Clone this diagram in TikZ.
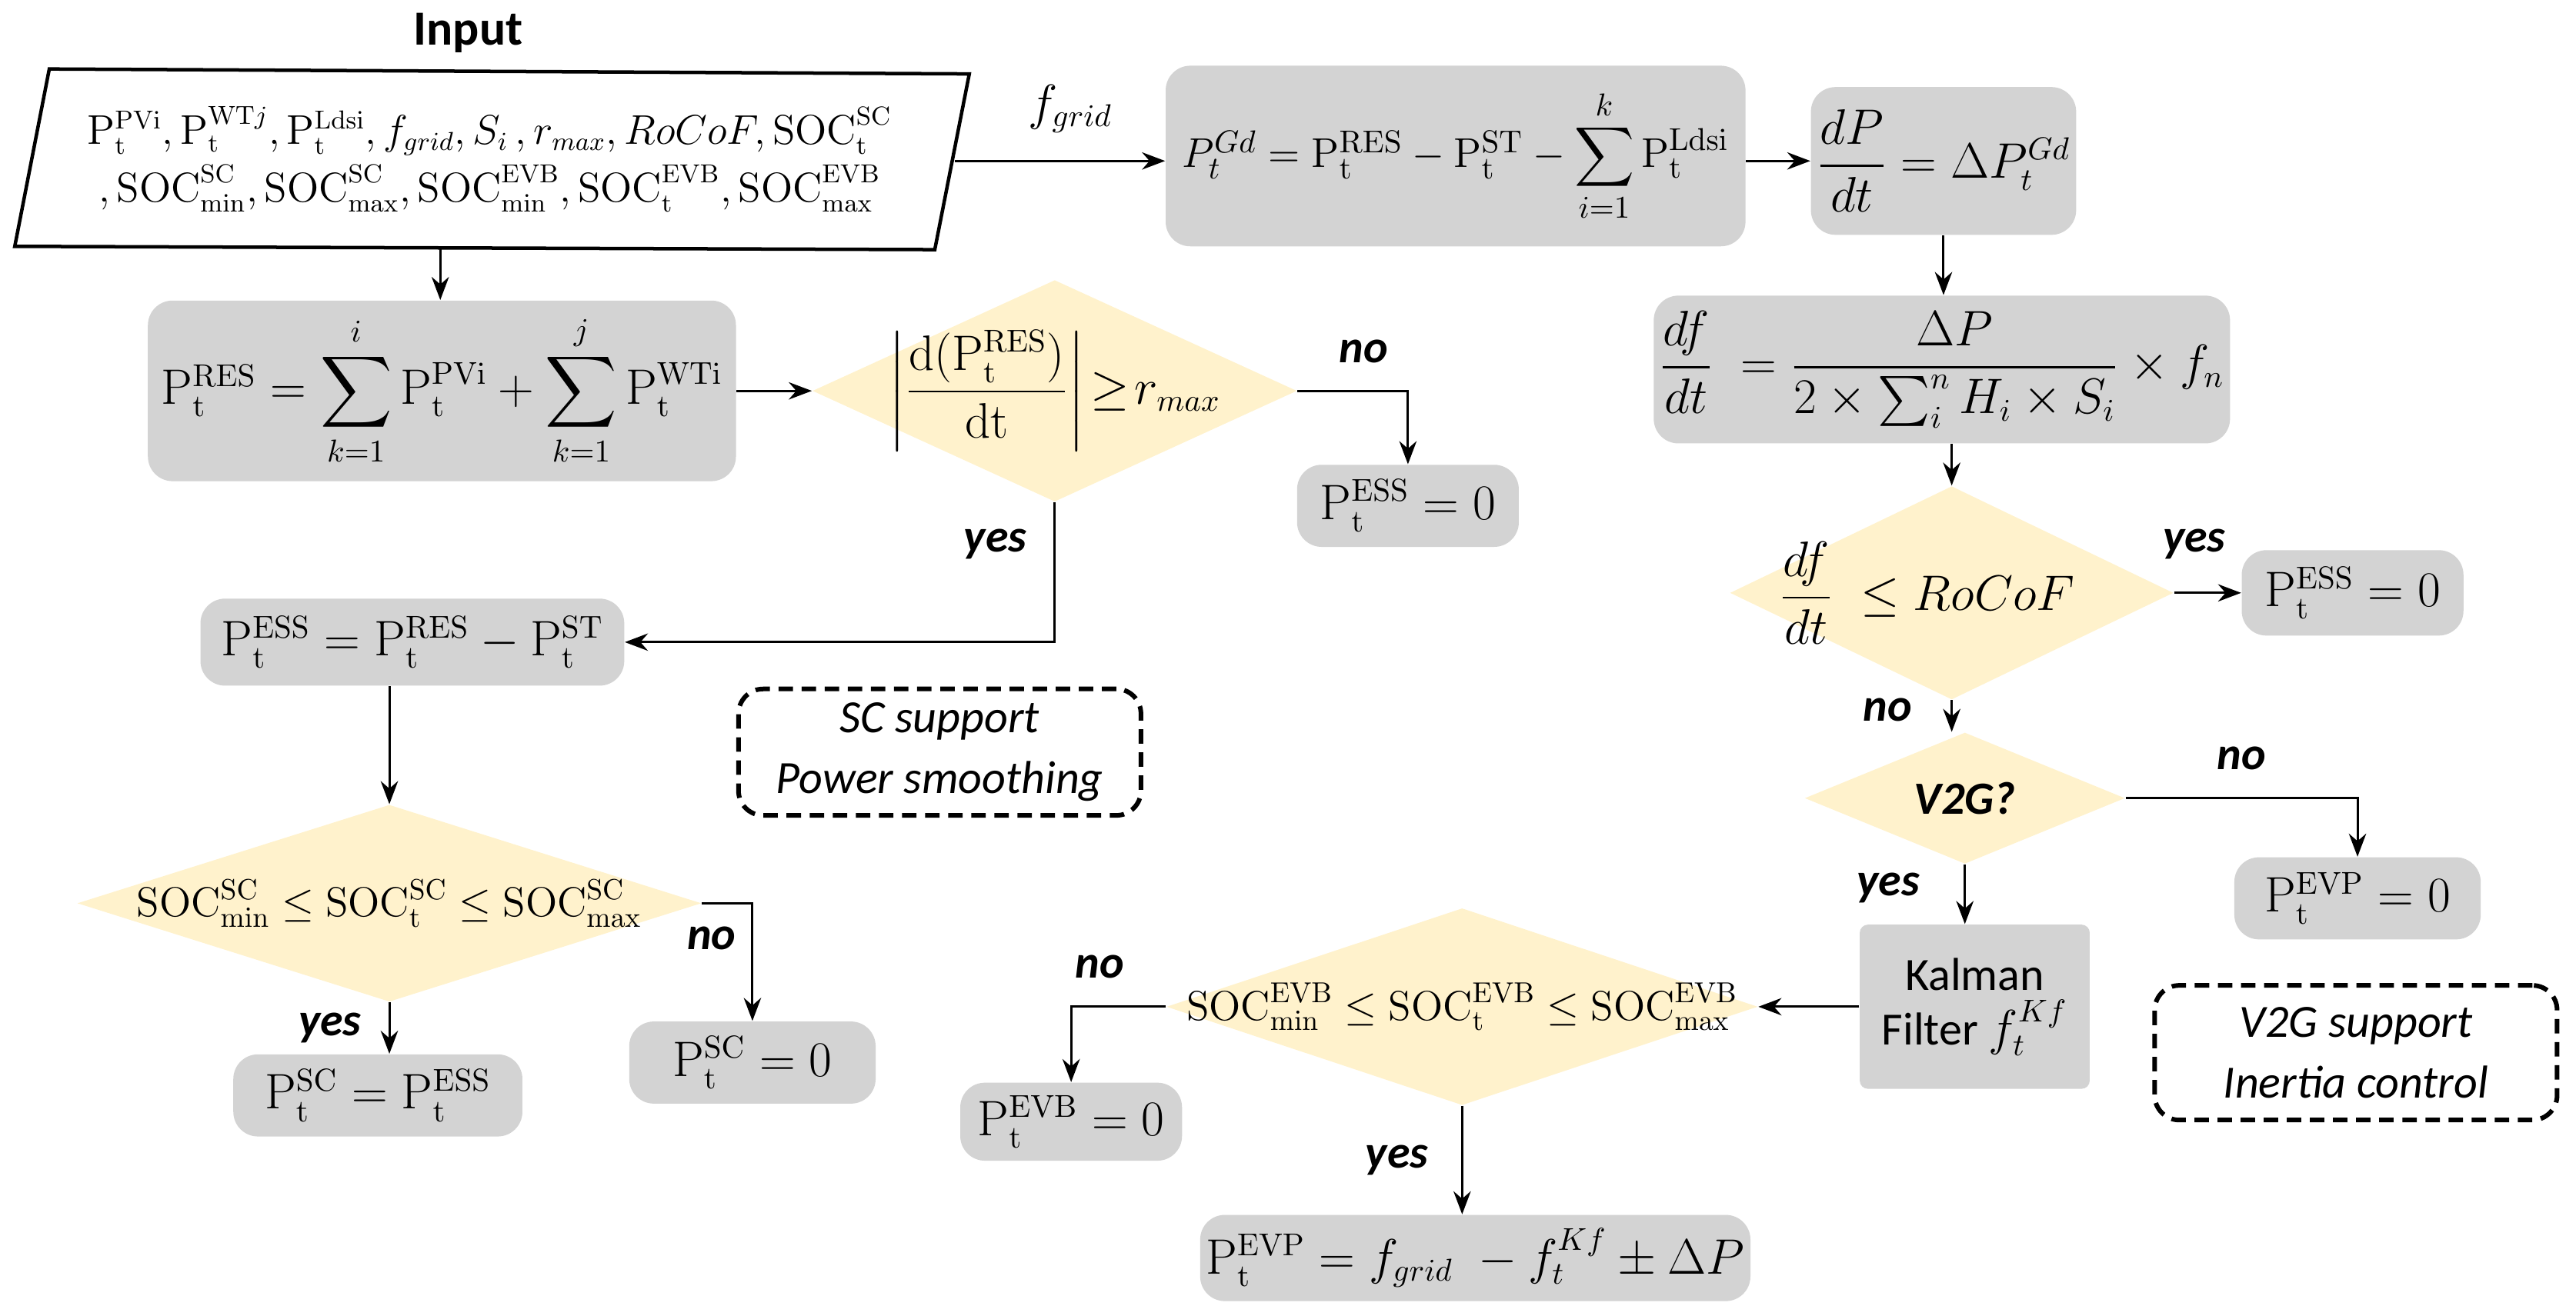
\documentclass[tikz,border=0pt]{standalone}
\usepackage{amsmath}
\usepackage[no-math]{fontspec}
\setmainfont{Carlito}
\usetikzlibrary{shapes.geometric,arrows.meta}
\definecolor{boxgray}{HTML}{D3D3D3}
\definecolor{diayel}{HTML}{FFF2CC}
\newcommand\myP[1]{\mathrm{P}_\mathrm{t}^\mathrm{#1}}
\newcommand\mySOC[2]{\mathrm{SOC}_\mathrm{#1}^\mathrm{#2}}
\begin{document}
\begin{tikzpicture}[x=0.02cm,y=-0.02cm,
  font=\fontsize{16}{19}\selectfont,
  box/.style={fill=boxgray,rounded corners=0.3cm,inner sep=2pt,align=center},
  dia/.style={diamond,fill=diayel,inner sep=0pt},
  dbox/.style={draw,line width=1.6pt,dashed,dash pattern=on 5pt off 3pt,rounded corners=0.3cm,align=center,font=\fontsize{16}{21}\selectfont\itshape},
  arr/.style={-{Stealth[length=8pt,width=6pt]},line width=0.8pt},
  yn/.style={font=\fontsize{16}{19}\selectfont\bfseries\itshape},
  sm/.style={font=\fontsize{14}{17}\selectfont}]
\useasboundingbox (0,0) rectangle (1568,801);
% input
\node[font=\fontsize{17}{20}\selectfont\bfseries] (inlab) at (285,20) {Input};
\draw[line width=1.2pt] (30,42) -- (590,45) -- (569,152) -- (9,150) -- cycle;
\node[align=center,font=\fontsize{13.5}{17}\selectfont] (in) at (298,97) {$\myP{PVi},\mathrm{P}_\mathrm{t}^{\mathrm{WT}j},\myP{Ldsi},f_{grid},S_i\,,r_{max},RoCoF,\mySOC{t}{SC}$\\[3pt]
$,\mySOC{min}{SC},\mySOC{max}{SC},\mySOC{min}{EVB},\mySOC{t}{EVB},\mySOC{max}{EVB}$};
\coordinate (inR) at (581,98);
\coordinate (inB) at (268,151);
% right column
\node[box,minimum width=7.06cm,minimum height=2.2cm,font=\fontsize{15}{18}\selectfont] (gd) at (886,95)
 {$P_t^{Gd}=\myP{RES}-\myP{ST}-\displaystyle\sum_{i=1}^{k}\myP{Ldsi}$};
\node[box,minimum width=3.2cm,minimum height=1.8cm] (dp) at (1183,98)
 {$\dfrac{dP}{dt}=\Delta P_t^{Gd}$};
\draw[arr] (inR) -- (gd.west |- inR) node[pos=0.55,above=6pt] (fg) {$f_{grid}$};
\draw[arr] (gd.east |- dp.west) -- (dp.west);
\node[box,minimum width=6.6cm,minimum height=1.8cm] (df) at (1182,225)
 {$\dfrac{df}{dt}\;=\dfrac{\Delta P}{2\times\sum_i^n H_i\times S_i}\times f_n$};
\draw[arr] (dp.south) -- (dp.south |- df.north);
\node[dia,minimum width=5.4cm,minimum height=2.6cm,label={[xshift=-0.3cm]center:$\dfrac{df}{dt}\;\le RoCoF$}] (d2) at (1188,361) {};
\draw[arr] (d2.north |- df.south) -- (d2.north);
\node[box,minimum width=2.7cm,minimum height=1.04cm] (ess2) at (1432,361) {$\myP{ESS}=0$};
\draw[arr] (d2.east) -- (ess2.west) node[yn,pos=0.3,above=8pt] {yes};
\node[dia,minimum width=3.9cm,minimum height=1.6cm,label={[font=\fontsize{16}{19}\selectfont\bfseries\itshape]center:V2G?}] (v2g) at (1196,486) {};
\draw[arr] (d2.south) -- (d2.south |- v2g.north) node[yn,pos=0.3,left=10pt] {no};
\node[box,minimum width=3cm,minimum height=1cm] (evp0) at (1435,547) {$\myP{EVP}=0$};
\draw[arr] (v2g.east) -| (evp0.north) node[yn,pos=0.25,above=6pt] {no};
\node[box,rounded corners=0.1cm,minimum width=2.8cm,minimum height=2cm] (kal) at (1202,613) {Kalman\\Filter $f_t^{Kf}$};
\draw[arr] (v2g.south) -- (v2g.south |- kal.north) node[yn,pos=0.4,left=12pt] {yes};
\node[dia,minimum width=7.2cm,minimum height=2.4cm,label={[sm]center:$\mySOC{min}{EVB}\le\mySOC{t}{EVB}\le\mySOC{max}{EVB}$}] (d3) at (890,613) {};
\draw[arr] (kal.west) -- (d3.east);
\node[box,minimum width=2.7cm,minimum height=0.95cm] (evb0) at (652,683) {$\myP{EVB}=0$};
\draw[arr] (d3.west) -| (evb0.north) node[yn,pos=0.35,above=6pt] {no};
\node[box,minimum width=6.6cm,minimum height=1.05cm] (evp) at (898,766) {$\myP{EVP}=f_{grid}\;-f_t^{Kf}\pm\Delta P$};
\draw[arr] (d3.south) -- (d3.south |- evp.north) node[yn,midway,left=8pt] {yes};
\node[dbox,minimum width=4.9cm,minimum height=1.64cm] (v2gs) at (1434,641) {V2G support\\Inertia control};
% left column
\node[box,minimum width=7.16cm,minimum height=2.2cm] (res) at (269,238)
 {$\myP{RES}=\displaystyle\sum_{k=1}^{i}\myP{PVi}+\sum_{k=1}^{j}\myP{WTi}$};
\draw[arr] (inB) -- (inB |- res.north);
\node[dia,minimum width=5.9cm,minimum height=2.7cm,label={center:$\left|\dfrac{\mathrm{d}(\myP{RES})}{\mathrm{dt}}\right|\!\ge\! r_{max}$}] (d1) at (642,238) {};
\draw[arr] (res.east) -- (d1.west);
\node[box,minimum width=2.7cm,minimum height=1cm] (ess0) at (857,308) {$\myP{ESS}=0$};
\draw[arr] (d1.east) -| (ess0.north) node[yn,pos=0.3,above=6pt] {no};
\node[box,minimum width=5.16cm,minimum height=1.06cm] (ess) at (251,391) {$\myP{ESS}=\myP{RES}-\myP{ST}$};
\draw[arr] (d1.south) |- (ess.east) node[yn,pos=0.15,left=6pt] {yes};
\node[dbox,minimum width=4.9cm,minimum height=1.54cm] (scs) at (572,458) {SC support\\Power smoothing};
\node[dia,minimum width=7.6cm,minimum height=2.4cm,label={[sm]center:$\mySOC{min}{SC}\le\mySOC{t}{SC}\le\mySOC{max}{SC}$}] (soc) at (237,550) {};
\draw[arr] (soc.north |- ess.south) -- (soc.north);
\node[box,minimum width=3cm,minimum height=1cm] (sc0) at (458,647) {$\myP{SC}=0$};
\draw[arr] (soc.east) -| (sc0.north) node[yn,pos=0.65,left=2pt] {no};
\node[box,minimum width=3.52cm,minimum height=1cm] (sc) at (230,667) {$\myP{SC}=\myP{ESS}$};
\draw[arr] (soc.south) -- (soc.south |- sc.north) node[yn,midway,left=6pt] {yes};
\end{tikzpicture}
\end{document}
